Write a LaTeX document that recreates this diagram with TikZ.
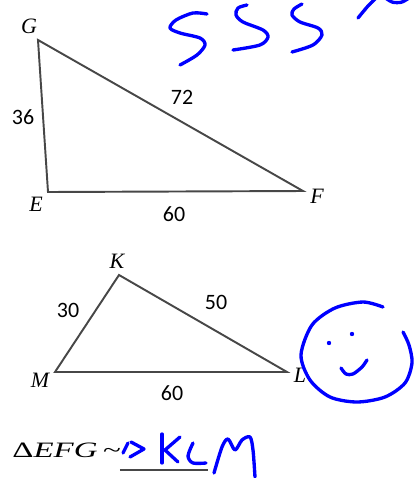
\documentclass[tikz,border=0pt]{standalone}
\usepackage{fontspec}
\setmainfont{Liberation Serif}
\newfontfamily\numfont{Carlito}
\usetikzlibrary{positioning}

\begin{document}
\begin{tikzpicture}[x=0.02cm, y=-0.02cm,
  side/.style={draw=black!72, line width=1.1pt, line join=miter},
  vlbl/.style={font=\itshape\fontsize{12.5}{14}\selectfont, inner sep=0pt},
  num/.style={font=\numfont\fontsize{12.5}{14}\selectfont, inner sep=0pt},
  hand/.style={draw=blue, line width=1.9pt, line cap=round, line join=round}
]
  \useasboundingbox (0,0) rectangle (415,478);
  \clip (0,0) rectangle (415,478);

  % triangle EFG
  \coordinate (G) at (38,40);
  \coordinate (E) at (48,192);
  \coordinate (F) at (303,191);
  \draw[side] (G) -- (E) -- (F) -- cycle;
  \node[vlbl] (Glbl) at (29,26)  {G};
  \node[vlbl] (Elbl) at (36,204) {E};
  \node[vlbl] (Flbl) at (317,196) {F};
  \node[num] (GE) at (23,117) {36};
  \node[num] (GF) at (182,97)  {72};
  \node[num] (EF) at (174,214) {60};

  % triangle KLM
  \coordinate (K) at (119,275);
  \coordinate (M) at (55,372);
  \coordinate (L) at (287,372);
  \draw[side] (K) -- (M) -- (L) -- cycle;
  \node[vlbl] (Klbl) at (117,261) {K};
  \node[vlbl] (Mlbl) at (40,380)  {M};
  \node[vlbl] (Llbl) at (300,375) {L};
  \node[num] (KM) at (68,310)  {30};
  \node[num] (KL) at (216,302) {50};
  \node[num] (ML) at (172,393) {60};

  % statement and blank
  \node[anchor=base west, inner sep=0pt] (sim) at (12,457)
    {\fontsize{12.5}{14}\selectfont\scalebox{1.5}[1]{Δ\textit{EFG}\,\textasciitilde}};
  \coordinate (u1) at (120,470);
  \coordinate (u2) at (208,470);
  \draw[side] (u1) -- (u2);

  % handwriting: SSS ~
  \draw[hand] plot[smooth] coordinates {(207,14) (193,13) (176,20) (170,28) (180,33) (200,38) (205,45) (197,55) (180,65)};
  \draw[hand] plot[smooth] coordinates {(247,5) (238,8) (236,15) (243,22) (263,30) (268,37) (260,45) (233,50)};
  \draw[hand] plot[smooth] coordinates {(302,4) (294,9) (292,15) (300,22) (318,28) (322,35) (313,45) (292,52)};
  \draw[hand] plot[smooth] coordinates {(358,18) (368,6) (378,-4)};
  \draw[hand] plot[smooth] coordinates {(383,-4) (392,2) (402,2) (412,-4)};

  % handwriting: smiley
  \draw[hand] plot[smooth] coordinates {(383,307) (363,302) (335,308) (312,325) (301,355) (310,380) (330,397) (357,402) (385,397) (405,383) (412,363) (409,345) (403,332)};
  \fill[blue] (329,343) circle (2.2);
  \fill[blue] (352,334) circle (2.2);
  \draw[hand] plot[smooth] coordinates {(341,368) (346,374) (353,374) (362,367) (367,360)};

  % handwriting: answer
  \draw[hand] (123,453) -- (128,443);
  \draw[hand] (131,442) -- (144,449) -- (130,457);
  \draw[hand] (162,434) -- (162,463);
  \draw[hand] (180,437) -- (165,450) -- (178,462);
  \draw[hand] plot[smooth] coordinates {(193,443) (188,456) (193,463) (206,463)};
  \draw[hand] plot[smooth] coordinates {(214,473) (222,447) (228,439) (235,450) (242,440) (250,437) (253,450) (255,477)};
\end{tikzpicture}
\end{document}
